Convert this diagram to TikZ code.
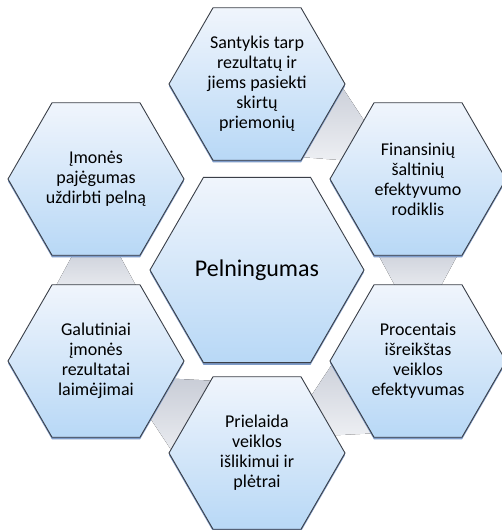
\documentclass[tikz,border=0pt]{standalone}
\usepackage{fontspec}
\setmainfont{Carlito}
\usetikzlibrary{shapes.geometric,calc,shadows}
\definecolor{hextop}{HTML}{F0F5FC}
\definecolor{hexbot}{HTML}{B8D8F6}
\definecolor{hexline}{HTML}{3A3F48}
\definecolor{hexshadow}{HTML}{7E9BC8}
\definecolor{lnktop}{HTML}{C9CDD7}
\definecolor{lnkbot}{HTML}{EDEFF3}
\tikzset{
  hexbase/.style={regular polygon, regular polygon sides=6, inner sep=0pt,
    draw=hexline, line width=0.9pt, top color=hextop, bottom color=hexbot,
    drop shadow={shadow xshift=0pt, shadow yshift=-2.2pt, fill=hexshadow, opacity=1}},
  outerhex/.style={hexbase, minimum size=176pt},
  centerhex/.style={hexbase, minimum size=214pt},
  hextext/.style={font=\fontsize{18}{20}\selectfont, align=center, text=black, inner sep=0pt},
  bigtext/.style={font=\fontsize{24}{28}\selectfont, text=black, inner sep=0pt},
  linkfill/.style={top color=lnktop, bottom color=lnkbot, draw=none}
}
\newcommand{\hexlink}[2]{%
  \fill[linkfill]
    ($($(#1.center)!66pt!(#2.center)$)!45pt!90:(#2.center)$) --
    ($($(#2.center)!66pt!(#1.center)$)!18pt!-90:(#1.center)$) --
    ($($(#2.center)!66pt!(#1.center)$)!18pt!90:(#1.center)$) --
    ($($(#1.center)!66pt!(#2.center)$)!45pt!-90:(#2.center)$) -- cycle;}
\begin{document}
\begin{tikzpicture}[x=1pt,y=-1pt]
\useasboundingbox[fill=white] (0,0) rectangle (502,530);
% anchor coordinates for the hexagon centres
\coordinate (pT) at (257,84);
\coordinate (pUL) at (96,179);
\coordinate (pUR) at (418,179);
\coordinate (pC) at (257,270);
\coordinate (pLL) at (96,361);
\coordinate (pLR) at (418,361);
\coordinate (pB) at (257,453);
% connectors (behind the hexagons)
\hexlink{pT}{pUR}
\hexlink{pUR}{pLR}
\hexlink{pLR}{pB}
\hexlink{pB}{pLL}
\hexlink{pLL}{pUL}
% hexagons
\node[outerhex] (T) at (pT) {};
\node[outerhex] (UL) at (pUL) {};
\node[outerhex] (UR) at (pUR) {};
\node[centerhex] (C) at (pC) {};
\node[outerhex] (LL) at (pLL) {};
\node[outerhex] (LR) at (pLR) {};
\node[outerhex] (B) at (pB) {};
% texts
\node[hextext] (Tt) at (T.center) {Santykis tarp\\rezultatų ir\\jiems pasiekti\\skirtų\\priemonių};
\node[hextext] (ULt) at (UL.center) {Įmonės\\pajėgumas\\uždirbti pelną};
\node[hextext] (URt) at (UR.center) {Finansinių\\šaltinių\\efektyvumo\\rodiklis};
\node[bigtext] (Ct) at (C.center) {Pelningumas};
\node[hextext] (LLt) at (LL.center) {Galutiniai\\įmonės\\rezultatai\\laimėjimai};
\node[hextext] (LRt) at (LR.center) {Procentais\\išreikštas\\veiklos\\efektyvumas};
\node[hextext] (Bt) at (B.center) {Prielaida\\veiklos\\išlikimui ir\\plėtrai};
\end{tikzpicture}
\end{document}
